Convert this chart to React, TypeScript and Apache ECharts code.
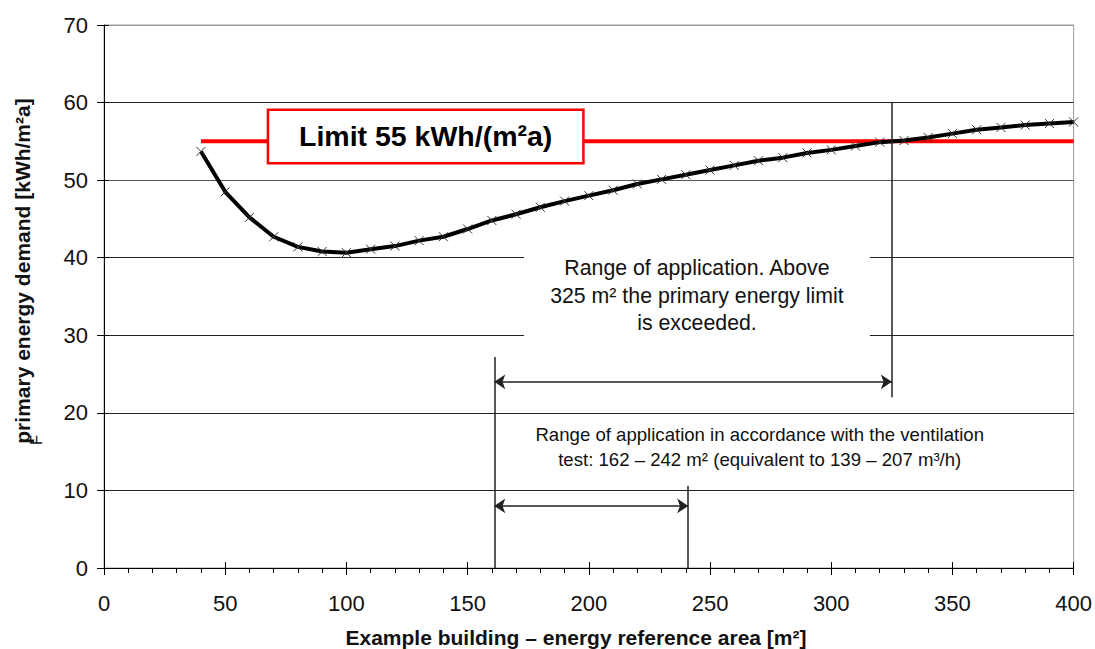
import React, { useEffect, useRef } from "react";
import * as echarts from "echarts";

// ---- data ----
const areaX = [40, 50, 60, 70, 80, 90, 100, 110, 120, 130, 140, 150, 160, 170, 180, 190, 200, 210, 220, 230, 240, 250, 260, 270, 280, 290, 300, 310, 320, 330, 340, 350, 360, 370, 380, 390, 400];
const demandY = [53.7, 48.5, 45.2, 42.7, 41.4, 40.8, 40.65, 41.1, 41.5, 42.2, 42.7, 43.7, 44.8, 45.6, 46.5, 47.3, 48.0, 48.7, 49.5, 50.1, 50.7, 51.3, 51.9, 52.5, 52.9, 53.5, 53.9, 54.4, 54.9, 55.1, 55.5, 56.0, 56.5, 56.8, 57.1, 57.3, 57.5];
const limitX = [40, 400];
const limitValue = 55;
const limitText = "Limit 55 kWh/(m²a)";

// vertical marker lines: x, from y, to y
const vLineX = [161, 241, 325];
const vLineFrom = [0, 0, 22];
const vLineTo = [27.2, 10.6, 60];

// double arrows: y, from x, to x
const arrowY = [24, 8];
const arrowFrom = [161, 161];
const arrowTo = [325, 241];

const upperNote = "Range of application. Above\n325 m² the primary energy limit\nis exceeded.";
const lowerNote = "Range of application in accordance with the ventilation\ntest: 162 – 242 m² (equivalent to 139 – 207 m³/h)";

const xTitle = "Example building – energy reference area [m²]";
const yTitle = "primary energy demand [kWh/m²a]";

const FONT = "'Liberation Sans', Arial, Helvetica, sans-serif";

export default function App() {
  const ref = useRef<HTMLDivElement>(null);
  useEffect(() => {
    if (!ref.current) return;
    const chart = echarts.init(ref.current, undefined, { renderer: "svg" });
    const curve = areaX.map((x, i) => [x, demandY[i]]);
    const limit = limitX.map((x) => [x, limitValue]);

    const vLines = vLineX.map((x, i) => [
      { coord: [x, vLineFrom[i]], symbol: "none" },
      { coord: [x, vLineTo[i]], symbol: "none" },
    ]);
    const arrows = arrowY.map((y, i) => [
      { coord: [arrowFrom[i], y], symbol: "arrow" },
      { coord: [arrowTo[i], y], symbol: "arrow" },
    ]);

    chart.setOption({
      animation: false,
      textStyle: { fontFamily: FONT },
      grid: { left: 104, right: 20, top: 25, bottom: 81, show: true, borderColor: "#9a9a9a", borderWidth: 1 },
      xAxis: [
        {
          type: "value", min: 0, max: 400, interval: 50,
          axisLine: { show: true, lineStyle: { color: "#000", width: 1 } },
          axisTick: { show: true, length: 7, lineStyle: { color: "#000" } },
          minorTick: { show: true, splitNumber: 5, length: 5, lineStyle: { color: "#000" } },
          splitLine: { show: false },
          axisLabel: { fontSize: 22, color: "#111", margin: 24, fontFamily: FONT },
        },
        {
          type: "value", min: 0, max: 400, interval: 50, position: "bottom",
          axisLine: { show: false },
          axisTick: { show: true, inside: true, length: 6, lineStyle: { color: "#000" } },
          axisLabel: { show: false },
          splitLine: { show: false },
        },
      ],
      yAxis: [
        {
          type: "value", min: 0, max: 70, interval: 10,
          axisLine: { show: true, lineStyle: { color: "#000", width: 1 } },
          axisTick: { show: true, length: 7, lineStyle: { color: "#000" } },
          splitLine: { show: true, lineStyle: { color: ["#222", "#222", "#222", "#222", "#222", "#555", "#222", "#9a9a9a"], width: 1 } },
          axisLabel: { fontSize: 22, color: "#111", margin: 16, fontFamily: FONT },
        },
        {
          type: "value", min: 0, max: 70, interval: 10, position: "left",
          axisLine: { show: false },
          axisTick: { show: true, inside: true, length: 5, lineStyle: { color: "#000" } },
          axisLabel: { show: false },
          splitLine: { show: false },
        },
      ],
      series: [
        {
          type: "line",
          data: limit,
          showSymbol: false,
          symbol: "none",
          lineStyle: { color: "#ff0000", width: 4 },
          silent: true,
          z: 2,
        },
        {
          type: "line",
          data: curve,
          symbol: "path://M0,0L10,10M10,0L0,10",
          symbolSize: 9,
          showSymbol: true,
          itemStyle: { color: "rgba(0,0,0,0)", borderColor: "#333", borderWidth: 1 },
          lineStyle: { color: "#000", width: 4 },
          silent: true,
          z: 3,
        },
        {
          type: "line",
          data: [],
          silent: true,
          markLine: {
            silent: true,
            symbolSize: 11,
            label: { show: false },
            lineStyle: { color: "#222", width: 1.5, type: "solid" },
            emphasis: { disabled: true },
            data: [...vLines, ...arrows],
          },
          markPoint: {
            silent: true,
            data: [
              {
                coord: [132.7, 55.63],
                symbol: "rect",
                symbolSize: 1,
                itemStyle: { color: "rgba(0,0,0,0)" },
                label: {
                  show: true, position: "inside", formatter: limitText,
                  fontSize: 28.5, fontWeight: "bold", color: "#000", fontFamily: FONT,
                  backgroundColor: "#ffffff", borderColor: "#ff0000", borderWidth: 2.5,
                  width: 269, height: 31, lineHeight: 31, padding: [10, 22], align: "center", verticalAlign: "middle",
                },
              },
              {
                coord: [244.6, 35.07],
                symbol: "rect",
                symbolSize: [346, 98],
                itemStyle: { color: "#ffffff" },
                label: {
                  show: true, position: "inside", formatter: upperNote,
                  fontSize: 21.3, lineHeight: 27.5, color: "#111", align: "center", fontFamily: FONT,
                },
              },
              {
                coord: [270.5, 15.08],
                symbol: "rect",
                symbolSize: [480, 66],
                itemStyle: { color: "#ffffff" },
                label: {
                  show: true, position: "inside", formatter: lowerNote, offset: [0, -4],
                  fontSize: 18.6, lineHeight: 25, color: "#111", align: "center", fontFamily: FONT,
                },
              },
            ],
          },
        },
      ],
      graphic: [
        {
          type: "text",
          x: 22, y: 271,
          rotation: Math.PI / 2,
          style: { text: yTitle, font: `bold 21px ${FONT}`, fill: "#111", textAlign: "center", textVerticalAlign: "middle", verticalAlign: "middle" },
        },
        {
          type: "text",
          x: 36, y: 440,
          rotation: Math.PI / 2,
          style: { text: "F", font: `17px ${FONT}`, fill: "#111", textAlign: "center", textVerticalAlign: "middle", verticalAlign: "middle" },
        },
        {
          type: "text",
          x: 576, y: 637,
          style: { text: xTitle, font: `bold 21px ${FONT}`, fill: "#111", textAlign: "center", textVerticalAlign: "middle", verticalAlign: "middle" },
        },
      ],
    });
    return () => chart.dispose();
  }, []);
  return <div ref={ref} style={{ position: "fixed", left: 0, top: 0, width: 1095, height: 649, background: "#fff" }} />;
}
